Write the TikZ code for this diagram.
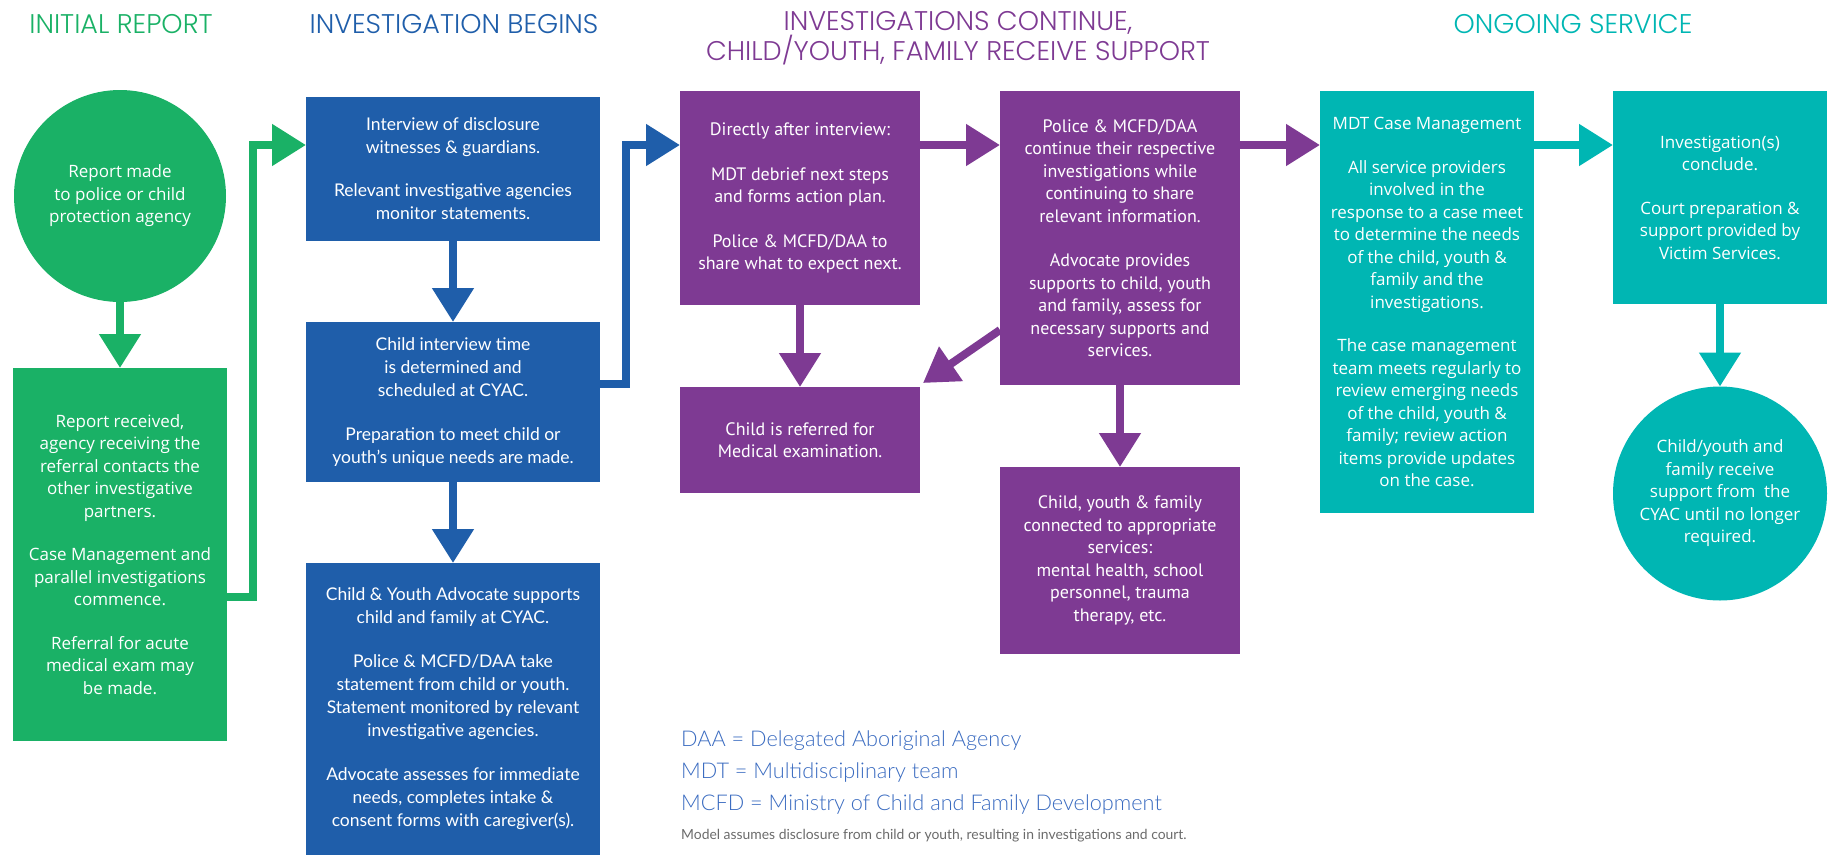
\documentclass[tikz,border=0pt]{standalone}
\usepackage{fontspec}
\setmainfont{Open Sans}
\IfFontExistsTF{Poppins Light}{\newfontfamily\titlefont{Poppins Light}}{\newfontfamily\titlefont{Poppins}}
\IfFontExistsTF{Lato Light}{\newfontfamily\legendfont{Lato Light}}{\newfontfamily\legendfont{Lato}}
\newfontfamily\bluefont{Lato}
\newfontfamily\purplefont{PT Sans}
\usepackage{xcolor}
\usetikzlibrary{arrows.meta,positioning,calc}
\definecolor{cgreen}{HTML}{1AB166}
\definecolor{cblue}{HTML}{1F5EAA}
\definecolor{cpurple}{HTML}{7E3A93}
\definecolor{cteal}{HTML}{00B6B3}
\definecolor{clegend}{HTML}{3A6BC0}
\definecolor{cnote}{HTML}{6B6B6B}
\tikzset{
	box/.style={text=white, align=center, inner sep=0pt, outer sep=0pt},
	greenbox/.style={box, fill=cgreen, font=\fontsize{17}{22.5}\selectfont},
	bluebox/.style={box, fill=cblue, minimum width=294pt, font=\bluefont\fontsize{17.5}{23}\selectfont},
	purplebox/.style={box, fill=cpurple, minimum width=240pt, font=\purplefont\fontsize{18}{22.5}\selectfont},
	tealbox/.style={box, fill=cteal, minimum width=214pt, font=\fontsize{17}{22.5}\selectfont},
	title/.style={align=center, inner sep=0pt, font=\titlefont\fontsize{27}{29}\selectfont},
	legend/.style={inner sep=0pt, text=clegend, font=\legendfont\fontsize{21.7}{26}\selectfont},
	flow/.style={line width=8pt, -{Triangle[length=34pt,width=40pt]}}
}

\begin{document}
\begin{tikzpicture}[x=1pt, y=-1pt]
	\useasboundingbox (0,0) rectangle (1829,855);
	\node[title, text=cgreen] (tinit) at (121,24) {INITIAL REPORT};
	\node[title, text=cblue] (tbegin) at (454,24) {INVESTIGATION BEGINS};
	\node[title, text=cpurple] (tcont) at (958,38) {INVESTIGATIONS CONTINUE,\\CHILD/YOUTH, FAMILY RECEIVE SUPPORT};
	\node[title, text=cteal] (tserv) at (1573,24) {ONGOING SERVICE};

	\node[greenbox, circle, minimum size=212pt] (report) at (120,196) {Report made\\to police or child\\protection agency};
	\node[greenbox, minimum width=214pt, minimum height=373pt] (received) at (120,554.5) {Report received,\\agency receiving the\\referral contacts the\\other investigative\\partners.\\[21pt]Case Management and\\parallel investigations\\commence.\\[21pt]Referral for acute\\medical exam may\\be made.};

	\node[bluebox, minimum height=144pt] (interview) at (453,169) {Interview of disclosure\\witnesses \& guardians.\\[20pt]Relevant investigative agencies\\monitor statements.};
	\node[bluebox, minimum height=160pt] (schedule) at (453,402) {Child interview time\\is determined and\\scheduled at CYAC.\\[21pt]Preparation to meet child or\\youth’s unique needs are made.};
	\node[bluebox, minimum height=292pt] (advocate) at (453,709) {Child \& Youth Advocate supports\\child and family at CYAC.\\[21pt]Police \& MCFD/DAA take\\statement from child or youth.\\Statement monitored by relevant\\investigative agencies.\\[21pt]Advocate assesses for immediate\\needs, completes intake \&\\consent forms with caregiver(s).};

	\node[purplebox, minimum height=214pt] (debrief) at (800,198) {Directly after interview:\\[22pt]MDT debrief next steps\\and forms action plan.\\[22pt]Police \& MCFD/DAA to\\share what to expect next.};
	\node[purplebox, minimum height=106pt] (medical) at (800,440) {Child is referred for\\Medical examination.};
	\node[purplebox, minimum height=294pt] (continue) at (1120,238) {Police \& MCFD/DAA\\continue their respective\\investigations while\\continuing to share\\relevant information.\\[22pt]Advocate provides\\supports to child, youth\\and family, assess for\\necessary supports and\\services.};
	\node[purplebox, minimum height=187pt] (services) at (1120,560.5) {Child, youth \& family\\connected to appropriate\\services:\\mental health, school\\personnel, trauma\\therapy, etc.};

	\node[tealbox, minimum height=422pt] (casemgmt) at (1427,302) {MDT Case Management\\[21pt]All service providers\\involved in the\\response to a case meet\\to determine the needs\\of the child, youth \&\\family and the\\investigations.\\[21pt]The case management\\team meets regularly to\\review emerging needs\\of the child, youth \&\\family; review action\\items provide updates\\on the case.};
	\node[tealbox, minimum height=213pt] (conclude) at (1720,197.5) {Investigation(s)\\conclude.\\[21pt]Court preparation \&\\support provided by\\Victim Services.};
	\node[tealbox, circle, minimum size=214pt] (support) at (1720,493.5) {Child/youth and\\family receive\\support from \ the\\CYAC until no longer\\required.};

	\draw[flow, cgreen] (report.south) -- (received.north);
	\draw[flow, cgreen] ([yshift=-42.5pt]received.east) -| ([xshift=-53pt,yshift=24pt]interview.west) -- ([yshift=24pt]interview.west);
	\draw[flow, cblue] (interview.south) -- (schedule.north);
	\draw[flow, cblue] (schedule.south) -- (advocate.north);
	\draw[flow, cblue] ([yshift=18pt]schedule.east) -| ([xshift=-54pt,yshift=53pt]debrief.west) -- ([yshift=53pt]debrief.west);
	\draw[flow, cpurple] ([yshift=53pt]debrief.east) -- ([yshift=93pt]continue.west);
	\draw[flow, cpurple] (debrief.south) -- (medical.north);
	\draw[flow, cpurple] ([yshift=-92pt]continue.west) -- ([xshift=3pt,yshift=4pt]medical.north east);
	\draw[flow, cpurple] (continue.south) -- (services.north);
	\draw[flow, cpurple] ([yshift=93pt]continue.east) -- ([yshift=157pt]casemgmt.west);
	\draw[flow, cteal] ([yshift=157pt]casemgmt.east) -- ([yshift=52.5pt]conclude.west);
	\draw[flow, cteal] (conclude.south) -- (support.north);

	\node[legend, anchor=base west] (daa) at (681,746) {DAA = Delegated Aboriginal Agency};
	\node[legend, anchor=base west] (mdt) at (681,778) {MDT = Multidisciplinary team};
	\node[legend, anchor=base west] (mcfd) at (681,810) {MCFD = Ministry of Child and Family Development};
	\node[inner sep=0pt, anchor=base west, text=cnote, font=\bluefont\fontsize{13.9}{16}\selectfont] (model) at (681,839) {Model assumes disclosure from child or youth, resulting in investigations and court.};
\end{tikzpicture}
\end{document}
